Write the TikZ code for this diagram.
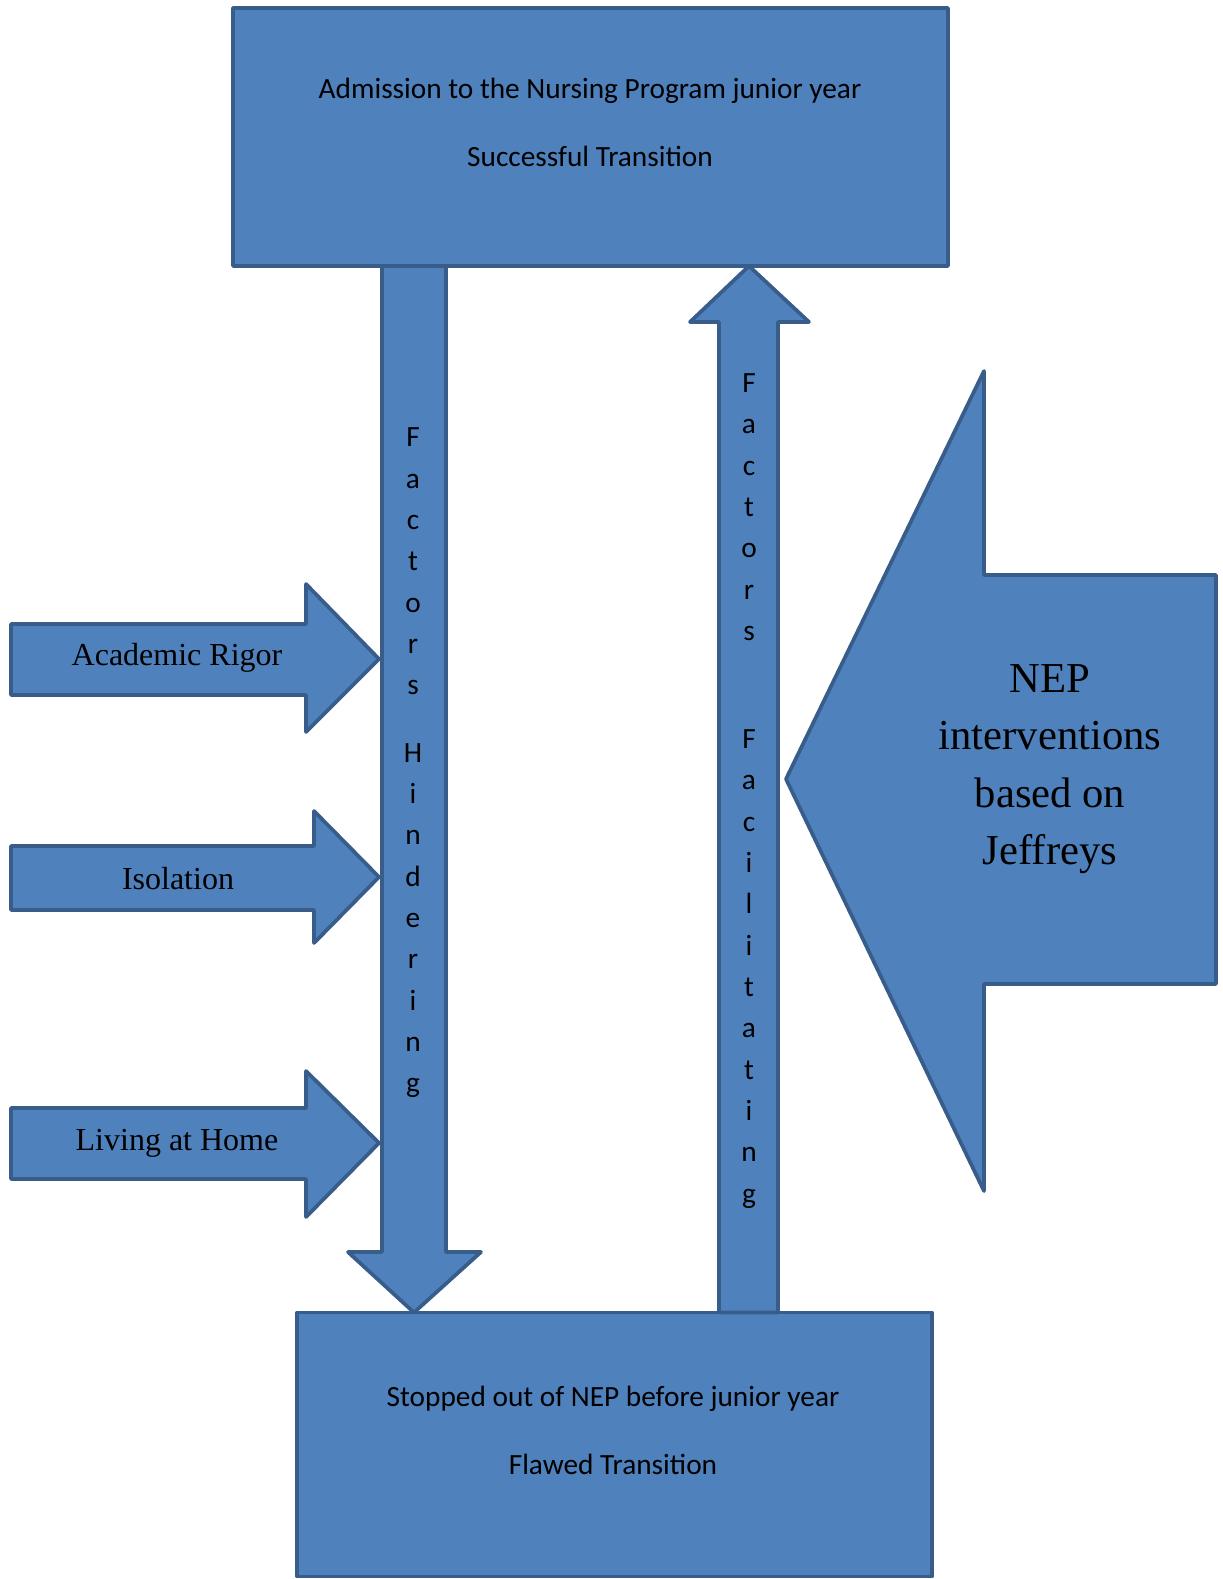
\documentclass[tikz,border=0pt]{standalone}
\usepackage{fontspec}
\setmainfont{Liberation Serif}
\newfontfamily\calibri{Carlito}
\definecolor{boxfill}{HTML}{4F81BD}
\definecolor{boxline}{HTML}{385D8A}

\begin{document}
\begin{tikzpicture}[x=0.75pt, y=-0.75pt,
    bluebox/.style={fill=boxfill, draw=boxline, line width=2.8pt, line join=round},
    stagebox/.style={bluebox, rectangle, inner sep=0pt, outer sep=0pt},
    boxtext/.style={font=\calibri\fontsize{22}{26}\selectfont, inner sep=0pt},
    vertlabel/.style={font=\calibri\fontsize{22}{31}\selectfont, align=center, inner sep=0pt},
    sidelabel/.style={font=\fontsize{24}{28}\selectfont, inner sep=0pt},
    neplabel/.style={font=\fontsize{32}{43}\selectfont, align=center, inner sep=0pt}]

    \useasboundingbox (0,0) rectangle (1222,1579);

    \node[stagebox, minimum width=536.25pt, minimum height=193.5pt] (top) at (590.5,137) {};
    \node[stagebox, minimum width=476.25pt, minimum height=198pt] (bottom) at (614.5,1444.5) {};

    \node[boxtext] (admit) at (590,91) {Admission to the Nursing Program junior year};
    \node[boxtext] (success) at (590,156) {Successful Transition};
    \node[boxtext] (stopped) at (613,1399) {Stopped out of NEP before junior year};
    \node[boxtext] (flawed) at (613,1464) {Flawed Transition};

    \draw[bluebox] (top.south -| 382,0) -- (382,1252) -- (348,1252) -- (bottom.north -| 414,0)
        -- (481,1252) -- (446,1252) -- (top.south -| 446,0) -- cycle;
    \draw[bluebox] (bottom.north -| 719,0) -- (719,322) -- (690,322) -- (top.south -| 749,0)
        -- (809,322) -- (778,322) -- (bottom.north -| 778,0) -- cycle;

    \node[vertlabel] (hinder) at (413,763) {F\\a\\c\\t\\o\\r\\s\\[19.6pt]H\\i\\n\\d\\e\\r\\i\\n\\g};
    \node[vertlabel] (facil) at (749,791) {F\\a\\c\\t\\o\\r\\s\\[50pt]F\\a\\c\\i\\l\\i\\t\\a\\t\\i\\n\\g};

    \draw[bluebox] (11,624) -- (306,624) -- (306,584) -- (379,659) -- (306,732) -- (306,695) -- (11,695) -- cycle;
    \draw[bluebox] (11,846) -- (314,846) -- (314,811) -- (379,877) -- (314,943) -- (314,910) -- (11,910) -- cycle;
    \draw[bluebox] (11,1108) -- (306,1108) -- (306,1071) -- (379,1143) -- (306,1217) -- (306,1179) -- (11,1179) -- cycle;

    \node[sidelabel] (rigor) at (177,658) {Academic Rigor};
    \node[sidelabel] (isolate) at (178,879) {Isolation};
    \node[sidelabel] (home) at (177,1143) {Living at Home};

    \draw[bluebox] (786,779) -- (984,371) -- (984,575) -- (1216,575) -- (1216,984) -- (984,984) -- (984,1191) -- cycle;
    \node[neplabel] (nep) at (1050,769) {NEP\\interventions\\based on\\Jeffreys};

\end{tikzpicture}
\end{document}
